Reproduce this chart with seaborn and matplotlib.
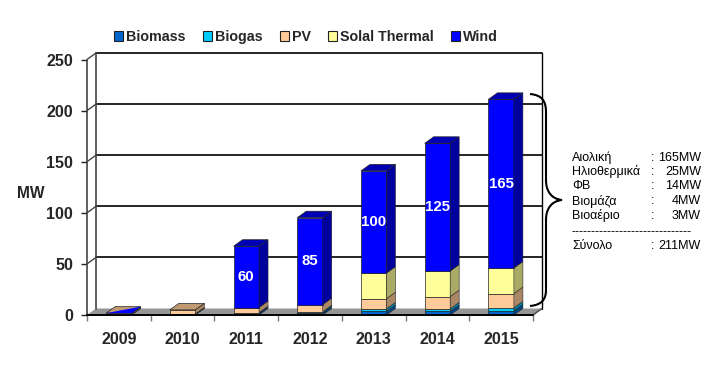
import seaborn as sns
import matplotlib.pyplot as plt
from matplotlib.patches import Polygon, Patch, PathPatch
from matplotlib.path import Path

years = ["2009", "2010", "2011", "2012", "2013", "2014", "2015"]
biomass = [0.3, 0.8, 1.5, 2, 3.5, 3.5, 4]
biogas = [0, 0.2, 0.8, 1.2, 2.5, 2.5, 3]
pv = [1.2, 4, 5, 7, 10, 12, 14]
solar = [0, 0, 0, 0, 25, 25, 25]
wind = [0.3, 0, 60, 85, 100, 125, 165]

series_names = ["Biomass", "Biogas", "PV", "Solal Thermal", "Wind"]
series_values = [biomass, biogas, pv, solar, wind]
front_colors = ["#0066CC", "#00CCFF", "#FFCC99", "#FFFF99", "#0000FF"]
side_colors = ["#004488", "#0088AA", "#AA8866", "#AAAA66", "#00009C"]
top_colors = ["#0055AA", "#00AAD4", "#C09A70", "#CCCC7A", "#0000B4"]

y_ticks = [0, 50, 100, 150, 200, 250]

side_names = ["Αιολική", "Ηλιοθερμικά", "ΦΒ", "Βιομάζα", "Βιοαέριο"]
side_values = ["165MW", "25MW", "14MW", "4MW", "3MW"]
total_name = "Σύνολο"
total_value = "211MW"

W, H = 724, 369

sns.set_style("white")
plt.rcParams["font.family"] = ["Liberation Sans", "DejaVu Sans"]

fig = plt.figure(figsize=(W / 100, H / 100), dpi=100)
ax = fig.add_axes([87 / W, 1 - 315 / H, 446 / W, 255.5 / H])
ax.set_xlim(-0.5, 6.5)
ax.set_ylim(0, 250)

# profundidad del efecto 3D en unidades de datos
dx = 9 / (446 / 7)
dy = 6.5 / (255.5 / 250)

x0, x1 = -0.5, 6.5
wall = "#444444"

# suelo y paredes
ax.add_patch(Polygon([(x0, 0), (x1, 0), (x1 + dx, dy), (x0 + dx, dy)],
                     facecolor="#969696", edgecolor="none", clip_on=False, zorder=1))
for t in y_ticks[1:]:
    ax.plot([x0 + dx, x1 + dx], [t + dy, t + dy], color="black", lw=1.2, clip_on=False, zorder=1)
    ax.plot([x0, x0 + dx], [t, t + dy], color=wall, lw=1, clip_on=False, zorder=1)
ax.plot([x0 + dx, x0 + dx], [dy, 250 + dy], color=wall, lw=1.2, clip_on=False, zorder=1)
ax.plot([x1 + dx, x1 + dx], [dy, 250 + dy], color="black", lw=1, clip_on=False, zorder=1)
ax.plot([x1, x1 + dx], [0, dy], color=wall, lw=1, clip_on=False, zorder=1)

# barras apiladas
bottom = [0] * len(years)
for i, values in enumerate(series_values):
    n_before = len(ax.patches)
    sns.barplot(x=years, y=values, bottom=bottom, color=front_colors[i], saturation=1,
                width=0.4, edgecolor="#222222", linewidth=0.5, ax=ax, zorder=3)
    bars = ax.patches[n_before:]
    for bar in bars:
        h = bar.get_height()
        bar.set_clip_on(False)
        if h == 0:
            bar.set_visible(False)
            continue
        l, b, r, t = bar.get_x(), bar.get_y(), bar.get_x() + bar.get_width(), bar.get_y() + h
        ax.add_patch(Polygon([(r, b), (r + dx, b + dy), (r + dx, t + dy), (r, t)],
                             facecolor=side_colors[i], edgecolor="#222222", lw=0.4,
                             clip_on=False, zorder=3))
    bottom = [a + b for a, b in zip(bottom, values)]

# cara superior: solo el último segmento de cada barra
containers = ax.containers
for j in range(len(years)):
    top_i = max(i for i in range(len(series_values)) if series_values[i][j] > 0)
    bar = containers[top_i][j]
    l, r, t = bar.get_x(), bar.get_x() + bar.get_width(), bar.get_y() + bar.get_height()
    # en 2009 Wind casi no tiene altura: la cara se ve de PV con una cuña azul
    base_i = 2 if series_values[top_i][j] < 1 else top_i
    ax.add_patch(Polygon([(l, t), (r, t), (r + dx, t + dy), (l + dx, t + dy)],
                         facecolor=top_colors[base_i], edgecolor="#222222", lw=0.5,
                         clip_on=False, zorder=3.2))
    if base_i != top_i:
        bar.set_visible(False)
        ax.add_patch(Polygon([(l, t), (r, t), (r + dx, t + dy)], facecolor=front_colors[top_i],
                             edgecolor="none", clip_on=False, zorder=3.3))

# etiquetas de Wind dentro de la barra
for j, v in enumerate(wind):
    if v >= 50:
        ax.text(j, bottom[j] - v / 2, str(v), color="white", fontsize=10.8,
                fontweight="bold", ha="center", va="center", zorder=5)

# ejes
sns.despine(ax=ax, left=True, bottom=True, top=True, right=True)
ax.plot([x0, x0], [0, 250], color=wall, lw=1.2, clip_on=False, zorder=2)
ax.plot([x0, x1], [0, 0], color="black", lw=1.4, clip_on=False, zorder=4)
ax.set_yticks(y_ticks)
ax.set_xticks([j - 0.5 for j in range(len(years) + 1)], minor=True)
ax.tick_params(axis="x", which="major", length=0, pad=12, labelsize=11.5)
ax.tick_params(axis="x", which="minor", length=4, width=1, color="#777777", bottom=True)
ax.tick_params(axis="y", length=4, width=1, color="#222222", left=True, pad=6, labelsize=11.5)
for label in ax.get_xticklabels() + ax.get_yticklabels():
    label.set_fontweight("bold")
ax.set_xlabel("")
ax.set_ylabel("")
fig.text(31 / W, 1 - 194 / H, "MW", fontsize=11.2, fontweight="bold", ha="center", va="center")

# leyenda
handles = [Patch(facecolor=c, edgecolor="#222222", lw=0.8, label=n)
           for c, n in zip(front_colors, series_names)]
fig.legend(handles=handles, loc="center", bbox_to_anchor=(306 / W, 1 - 37 / H), ncol=5,
           frameon=False, handlelength=0.65, handleheight=0.65, handletextpad=0.2,
           columnspacing=1.2, prop={"weight": "bold", "size": 10.3})

# llave
def px(x, y):
    return (x / W, 1 - y / H)

brace = [(530, 94), (541, 95), (546, 100), (546, 112), (546, 180), (546, 192), (552, 199),
         (562, 200), (552, 201), (546, 208), (546, 220), (546, 290), (546, 300), (541, 305),
         (530, 306)]
codes = [Path.MOVETO] + [Path.CURVE4] * 3 + [Path.LINETO] + [Path.CURVE4] * 3 \
    + [Path.CURVE4] * 3 + [Path.LINETO] + [Path.CURVE4] * 3
fig.add_artist(PathPatch(Path([px(*p) for p in brace], codes), facecolor="none",
                         edgecolor="black", lw=1.5, transform=fig.transFigure))

# tabla lateral
row_y = [158, 172, 186, 201, 216]
for name, value, y in zip(side_names, side_values, row_y):
    fig.text(572 / W, 1 - y / H, name, fontsize=9, color="black", va="center")
    fig.text(653 / W, 1 - y / H, ":", fontsize=9, color="black", va="center", ha="center")
    fig.text(701 / W, 1 - y / H, value, fontsize=9, color="black", va="center", ha="right")
fig.text(572 / W, 1 - 232 / H, "-" * 30, fontsize=9, color="black", va="center")
fig.text(572 / W, 1 - 246 / H, total_name, fontsize=9, color="black", va="center")
fig.text(653 / W, 1 - 246 / H, ":", fontsize=9, color="black", va="center", ha="center")
fig.text(701 / W, 1 - 246 / H, total_value, fontsize=9, color="black", va="center", ha="right")

fig.savefig("out.png", dpi=100)
